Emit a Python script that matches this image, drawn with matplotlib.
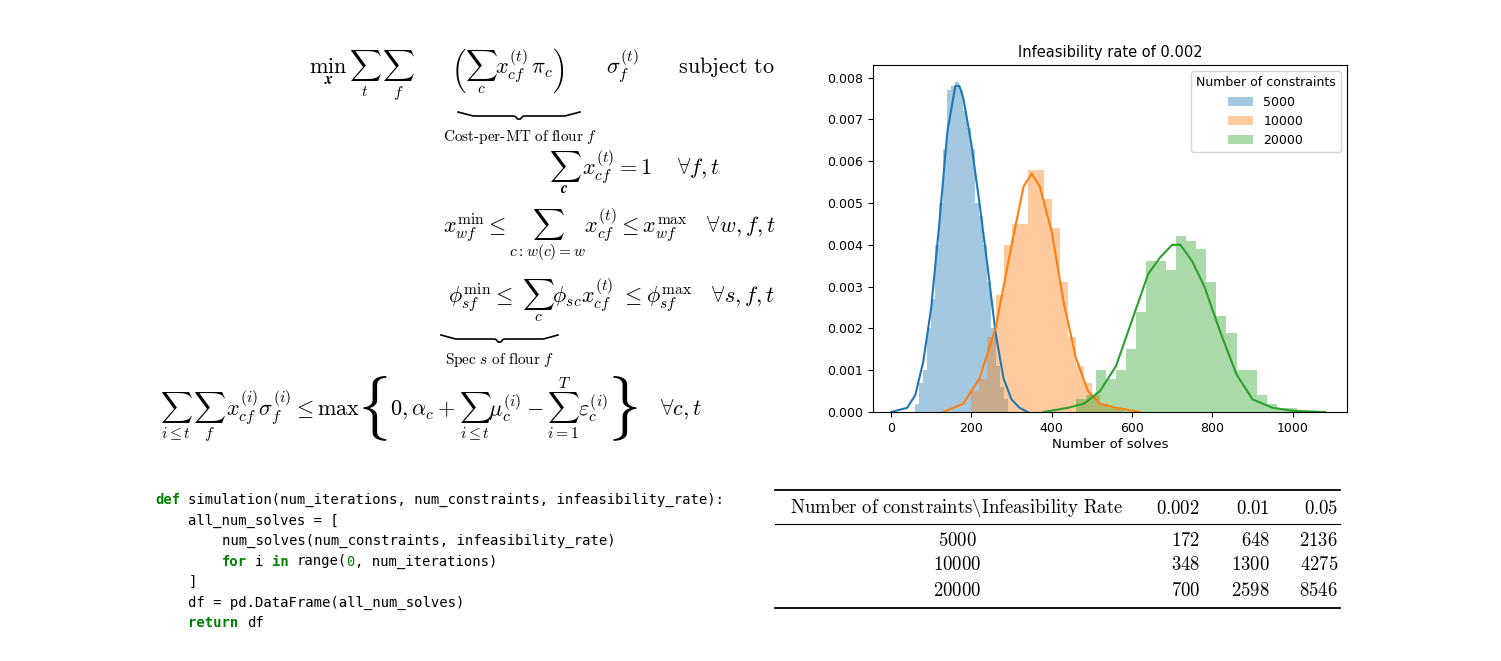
import matplotlib
matplotlib.use("Agg")
import matplotlib.pyplot as plt
import numpy as np

plt.rcParams['mathtext.fontset'] = 'cm'

W, H = 1501, 661
fig = plt.figure(figsize=(W/100, H/100), dpi=100)

def fx(px): return px / W
def fy(py): return 1 - py / H

# ---------------- data ----------------
series_labels = ["5000", "10000", "20000"]
colors = ["#1f77b4", "#ff7f0e", "#2ca02c"]

blue_x = [60, 70, 80, 90, 100, 110, 120, 130, 140, 150, 160, 170, 180, 190, 200, 210, 220, 230, 240, 250, 260, 270, 280]
blue_h = [0.0002, 0.0007, 0.0010, 0.0020, 0.0027, 0.0040, 0.0050, 0.0063, 0.0077, 0.0078, 0.0079, 0.0077, 0.0072, 0.0068, 0.0063, 0.0050, 0.0047, 0.0040, 0.0031, 0.0020, 0.0011, 0.0006, 0.0003]
orange_x = [200, 220, 240, 260, 280, 300, 320, 340, 360, 380, 400, 420, 440, 460, 480, 500, 520, 540, 560]
orange_h = [0.0005, 0.0008, 0.0018, 0.0028, 0.0040, 0.0045, 0.0045, 0.0058, 0.0058, 0.0051, 0.0044, 0.0031, 0.0018, 0.0011, 0.0007, 0.0004, 0.0002, 0.0001, 0.0001]
green_x = [460, 485, 510, 535, 560, 585, 610, 635, 660, 685, 710, 735, 760, 785, 810, 835, 860, 885, 910, 935, 960, 985]
green_h = [0.0003, 0.0004, 0.0010, 0.0008, 0.0010, 0.0015, 0.0024, 0.0036, 0.0036, 0.0034, 0.0042, 0.0041, 0.0039, 0.0031, 0.0023, 0.0019, 0.0010, 0.0010, 0.0004, 0.0002, 0.0001, 0.0001]
bin_widths = [10, 20, 25]

blue_kx = [0, 40, 60, 80, 100, 120, 140, 160, 170, 180, 200, 220, 240, 260, 280, 300, 320, 340]
blue_ky = [0, 0.0001, 0.0004, 0.0012, 0.0025, 0.0045, 0.0067, 0.0078, 0.0078, 0.0075, 0.0064, 0.0050, 0.0035, 0.0019, 0.0008, 0.0003, 0.0001, 0]
orange_kx = [130, 180, 220, 260, 300, 330, 350, 370, 400, 430, 460, 490, 520, 560, 620]
orange_ky = [0, 0.0002, 0.0008, 0.0020, 0.0040, 0.0054, 0.0057, 0.0054, 0.0043, 0.0026, 0.0013, 0.0005, 0.0002, 0.0001, 0]
green_kx = [380, 440, 480, 520, 560, 600, 640, 670, 700, 720, 750, 780, 820, 860, 900, 950, 1000, 1080]
green_ky = [0, 0.0001, 0.0002, 0.0005, 0.0011, 0.0022, 0.0033, 0.0037, 0.0040, 0.0040, 0.0036, 0.0030, 0.0019, 0.0009, 0.0003, 0.0001, 0.00003, 0]

table_cols = ["0.002", "0.01", "0.05"]
table_rows = ["5000", "10000", "20000"]
table_vals = [["172", "648", "2136"], ["348", "1300", "4275"], ["700", "2598", "8546"]]

# ---------------- histogram ----------------
ax = fig.add_axes([fx(873), fy(412), fx(1347-873), (412-65)/H])
hists = [(blue_x, blue_h), (orange_x, orange_h), (green_x, green_h)]
kdes = [(blue_kx, blue_ky), (orange_kx, orange_ky), (green_kx, green_ky)]
for (hx, hh), w, c, lab in zip(hists, bin_widths, colors, series_labels):
    ax.bar(hx, hh, width=w, align='edge', color=c, alpha=0.4, label=lab, linewidth=0)
for (kx, ky), c in zip(kdes, colors):
    ax.plot(kx, ky, color=c, lw=1.5)
ax.set_xlim(-45, 1135)
ax.set_ylim(0, 0.0083)
ax.set_yticks(np.arange(0, 0.0081, 0.001))
ax.set_yticklabels([f"{v:.3f}" for v in np.arange(0, 0.0081, 0.001)])
ax.set_xticks([0, 200, 400, 600, 800, 1000])
ax.tick_params(labelsize=9)
ax.set_xlabel("Number of solves", fontsize=9.5, labelpad=2)
ax.set_title("Infeasibility rate of 0.002", fontsize=10.5)
ax.legend(title="Number of constraints", fontsize=9, title_fontsize=9, loc='upper right')

# ---------------- equations ----------------
fs = 16
fig.text(fx(775), fy(75), r"$\min_{\boldsymbol{x}}\,\sum_{t}\,\sum_{f}\qquad\left(\sum_{c} x_{cf}^{(t)}\pi_c\right)\qquad\sigma_f^{(t)}\qquad\mathrm{subject\ to}$",
         fontsize=fs, va='center', ha='right')
fig.text(fx(520), fy(137), r"$\mathrm{Cost\text{-}per\text{-}MT\ of\ flour}\ f$", fontsize=11, ha='center', va='center')
fig.text(fx(720), fy(172), r"$\sum_{\boldsymbol{c}}\, x_{cf}^{(t)} = 1\quad\ \forall f,t$", fontsize=fs, ha='right', va='center')
fig.text(fx(775), fy(235), r"$x_{wf}^{\min}\leq \sum_{c:w(c)=w} x_{cf}^{(t)} \leq x_{wf}^{\max}\quad \forall w,f,t$", fontsize=fs, ha='right', va='center')
fig.text(fx(775), fy(300), r"$\phi_{sf}^{\min}\leq\ \sum_{c}\phi_{sc}x_{cf}^{(t)}\ \leq \phi_{sf}^{\max}\quad \forall s,f,t$", fontsize=fs, ha='right', va='center')
fig.text(fx(500), fy(360), r"$\mathrm{Spec}\ s\ \mathrm{of\ flour}\ f$", fontsize=11, ha='center', va='center')
fig.text(fx(160), fy(410), r"$\sum_{i\leq t}\,\sum_{f}\, x_{cf}^{(i)}\sigma_f^{(i)} \leq \max\left\lbrace 0,\alpha_c+\sum_{i\leq t}\mu_c^{(i)}-\sum_{i=1}^{T}\varepsilon_c^{(i)}\right\rbrace\quad \forall c,t$",
         fontsize=fs, ha='left', va='center')
# underbraces
for (x0, x1, yb) in [(458, 580, 112), (441, 558, 335)]:
    xs = np.linspace(x0, x1, 50)
    t = (xs - x0) / (x1 - x0)
    ys = yb + 4 * np.minimum(np.minimum(t, 1 - t) * 8, 1) + 4 * np.exp(-((t - 0.5) / 0.02) ** 2)
    fig.add_artist(plt.Line2D(fx(xs), fy(ys), color='black', lw=1.2))

# ---------------- code ----------------
code = ["def simulation(num_iterations, num_constraints, infeasibility_rate):",
        "    all_num_solves = [",
        "        num_solves(num_constraints, infeasibility_rate)",
        "        for i in range(0, num_iterations)",
        "    ]",
        "    df = pd.DataFrame(all_num_solves)",
        "    return df"]
cw = 8.33
green = "#008000"
kw = {0: [(0, "def")], 3: [(8, "for"), (14, "in"), (23, "0")], 6: [(4, "return")]}
for i, line in enumerate(code):
    y = fy(500 + i * 20.5)
    marks = kw.get(i, [])
    # split into segments
    segs = []
    pos = 0
    for j, k in marks:
        if j > pos:
            segs.append((pos, line[pos:j], 'black', 'normal'))
        segs.append((j, k, green, 'bold' if k != "0" else 'normal'))
        pos = j + len(k)
    segs.append((pos, line[pos:], 'black', 'normal'))
    for j, s, col, wt in segs:
        st = s.lstrip(" ")
        if not st:
            continue
        j2 = j + len(s) - len(st)
        fig.text(fx(155 + j2 * cw), y, st, family='DejaVu Sans Mono', fontsize=10, va='center',
                 color=col, weight=wt)

# ---------------- table ----------------
for yy, lw in [(490, 1.3), (524, 0.8), (608, 1.3)]:
    fig.add_artist(plt.Line2D([fx(775), fx(1340)], [fy(yy), fy(yy)], color='black', lw=lw))
tfs = 13.5
fig.text(fx(957), fy(508), r"$\mathrm{Number\ of\ constraints\backslash Infeasibility\ Rate}$", fontsize=tfs, ha='center', va='center')
col_x = [1200, 1270, 1338]
for cx, cl in zip(col_x, table_cols):
    fig.text(fx(cx), fy(508), f"${cl}$", fontsize=tfs, ha='right', va='center')
for r, (rl, vals) in enumerate(zip(table_rows, table_vals)):
    y = fy(540 + r * 25)
    fig.text(fx(957), y, f"${rl}$", fontsize=tfs, ha='center', va='center')
    for cx, v in zip(col_x, vals):
        fig.text(fx(cx), y, f"${v}$", fontsize=tfs, ha='right', va='center')

fig.savefig("out.png", dpi=100)
